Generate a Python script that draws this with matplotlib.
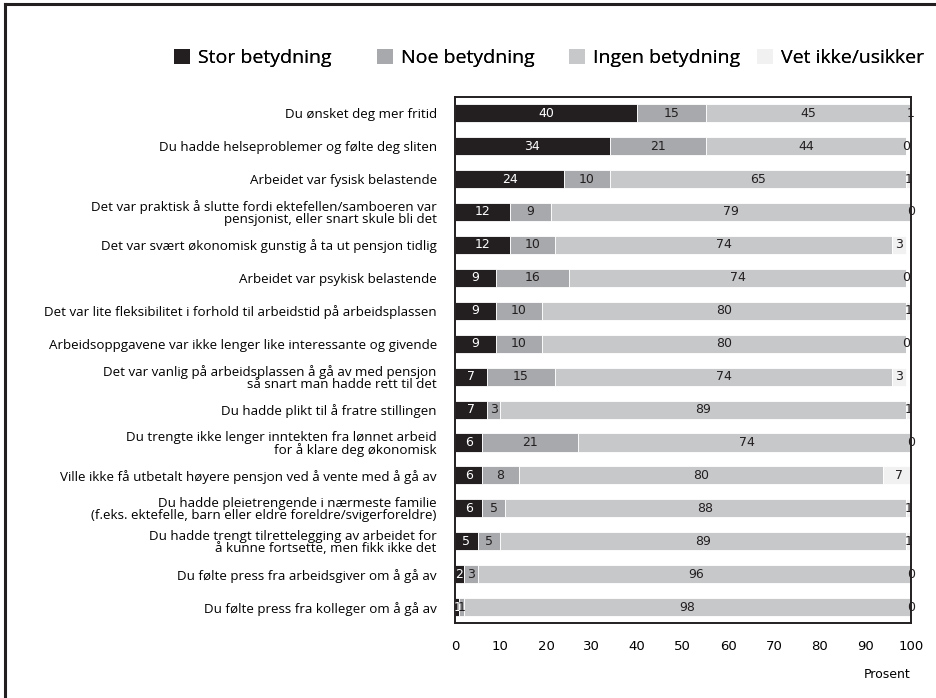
"""Stacked bar chart: reasons for taking out pension early."""

import matplotlib

matplotlib.use("Agg")

import matplotlib.pyplot as plt
from matplotlib.lines import Line2D
from matplotlib.patches import Patch
import numpy as np


CATEGORIES = [
    "Du ønsket deg mer fritid",
    "Du hadde helseproblemer og følte deg sliten",
    "Arbeidet var fysisk belastende",
    "Det var praktisk å slutte fordi ektefellen/samboeren var\npensjonist, eller snart skule bli det",
    "Det var svært økonomisk gunstig å ta ut pensjon tidlig",
    "Arbeidet var psykisk belastende",
    "Det var lite fleksibilitet i forhold til arbeidstid på arbeidsplassen",
    "Arbeidsoppgavene var ikke lenger like interessante og givende",
    "Det var vanlig på arbeidsplassen å gå av med pensjon\nså snart man hadde rett til det",
    "Du hadde plikt til å fratre stillingen",
    "Du trengte ikke lenger inntekten fra lønnet arbeid\nfor å klare deg økonomisk",
    "Ville ikke få utbetalt høyere pensjon ved å vente med å gå av",
    "Du hadde pleietrengende i nærmeste familie\n(f.eks. ektefelle, barn eller eldre foreldre/svigerforeldre)",
    "Du hadde trengt tilrettelegging av arbeidet for\nå kunne fortsette, men fikk ikke det",
    "Du følte press fra arbeidsgiver om å gå av",
    "Du følte press fra kolleger om å gå av",
]
STOR = [40, 34, 24, 12, 12, 9, 9, 9, 7, 7, 6, 6, 6, 5, 2, 1]
NOE = [15, 21, 10, 9, 10, 16, 10, 10, 15, 3, 21, 8, 5, 5, 3, 1]
INGEN = [45, 44, 65, 79, 74, 74, 80, 80, 74, 89, 74, 80, 88, 89, 96, 98]
VET = [1, 0, 1, 0, 3, 0, 1, 0, 3, 1, 0, 7, 1, 1, 0, 0]

SERIES_NAMES = ["Stor betydning", "Noe betydning", "Ingen betydning", "Vet ikke/usikker"]
COLORS = ["#231f20", "#a7a9ac", "#c7c8ca", "#f1f1f2"]
TEXT_COLORS = ["white", "#231f20", "#231f20", "#231f20"]
XTICKS = [0, 10, 20, 30, 40, 50, 60, 70, 80, 90, 100]

# left edge of each legend entry, as a fraction of the figure width
LEGEND_X = [0.186, 0.403, 0.608, 0.809]

NARROW = ["DejaVu Sans Condensed", "Liberation Sans Narrow", "DejaVu Sans"]
LABEL_FONT = ["Open Sans", "DejaVu Sans"]


def main() -> None:
    fig = plt.figure(figsize=(9.36, 6.98), dpi=100)
    ax = fig.add_axes([0.486, 0.107, 0.487, 0.754])

    y = np.arange(len(CATEGORIES))
    left = np.zeros(len(CATEGORIES))
    for values, color, text_color in zip(
        [STOR, NOE, INGEN, VET], COLORS, TEXT_COLORS, strict=True
    ):
        values = np.array(values, dtype=float)
        ax.barh(y, values, left=left, height=0.55, color=color,
                edgecolor="white", linewidth=0.6)
        for yi, start, value in zip(y, left, values, strict=True):
            centre = start + value / 2
            ax.text(min(centre, 100), yi, f"{int(value)}", ha="center", va="center",
                    color=text_color, fontsize=9, family=NARROW)
        left = left + values

    ax.set_xlim(0, 100)
    ax.set_ylim(len(CATEGORIES) - 0.51, -0.49)
    ax.set_yticks(y)
    ax.set_yticklabels(CATEGORIES, fontsize=9.6, family=LABEL_FONT,
                       linespacing=0.92)
    ax.set_xticks(XTICKS)
    ax.set_xticklabels([str(t) for t in XTICKS], family=NARROW, fontsize=9.5)
    ax.tick_params(axis="y", length=0, pad=13)
    ax.tick_params(axis="x", length=0, pad=12)
    for spine in ax.spines.values():
        spine.set_linewidth(1.4)
        spine.set_color("#231f20")

    ax.text(1.0, -0.097, "Prosent", transform=ax.transAxes, ha="right",
            va="center", fontsize=9, family=NARROW)

    for name, color, x in zip(SERIES_NAMES, COLORS, LEGEND_X, strict=True):
        legend = fig.legend([Patch(facecolor=color, edgecolor="none")], [name],
                            loc="center left", bbox_to_anchor=(x, 0.917),
                            frameon=False, borderpad=0, borderaxespad=0,
                            handlelength=0.82, handleheight=0.82,
                            handletextpad=0.41,
                            prop={"family": LABEL_FONT, "size": 14})
        fig.add_artist(legend)

    fig.add_artist(Line2D([0.005, 1.0], [0.994, 0.994], transform=fig.transFigure,
                          color="#231f20", linewidth=2.2))
    fig.add_artist(Line2D([0.0058, 0.0058], [0.0, 0.994], transform=fig.transFigure,
                          color="#231f20", linewidth=2.2))

    fig.savefig("out.png", dpi=100)
    plt.close(fig)


if __name__ == "__main__":
    main()
